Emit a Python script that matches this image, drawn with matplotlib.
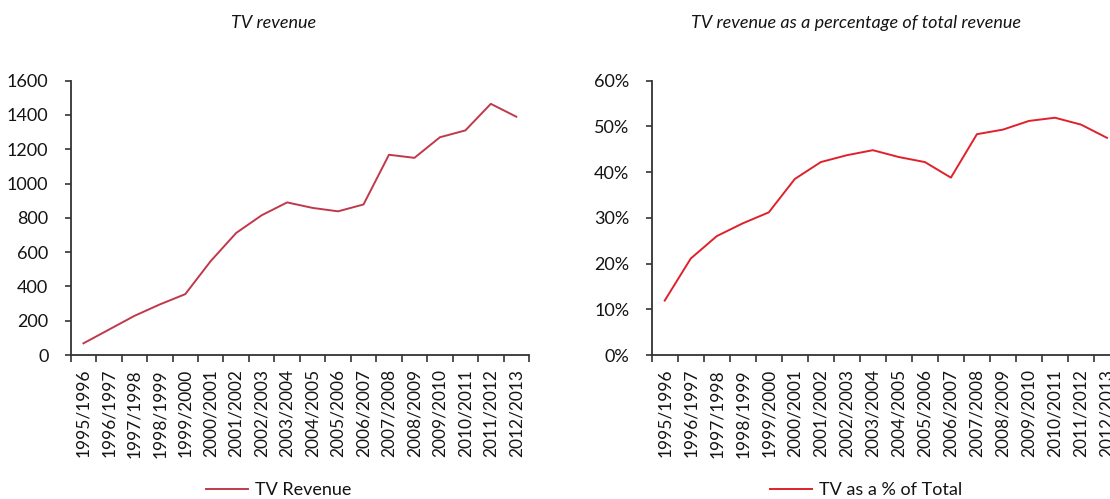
import matplotlib
matplotlib.use('Agg')
import matplotlib.pyplot as plt
from matplotlib.ticker import FixedLocator, FuncFormatter

# ── Data ──────────────────────────────────────────────────────────────────────
seasons = ['1995/1996', '1996/1997', '1997/1998', '1998/1999', '1999/2000',
           '2000/2001', '2001/2002', '2002/2003', '2003/2004', '2004/2005',
           '2005/2006', '2006/2007', '2007/2008', '2008/2009', '2009/2010',
           '2010/2011', '2011/2012', '2012/2013']
tv_revenue = [68, 148, 228, 295, 355, 548, 712, 815, 890, 858,
              838, 878, 1168, 1150, 1270, 1310, 1465, 1390]
tv_share = [0.119, 0.211, 0.260, 0.288, 0.312, 0.385, 0.422, 0.437, 0.448, 0.433,
            0.422, 0.388, 0.483, 0.493, 0.512, 0.519, 0.504, 0.475]

plt.rcParams['font.family'] = ['Lato', 'DejaVu Sans']
INK = '#141414'

fig = plt.figure(figsize=(11.10, 4.99), dpi=100)
W, H = 1110, 499


def box(x0, x1, ytop, ybot):
    return [x0 / W, 1 - ybot / H, (x1 - x0) / W, (ybot - ytop) / H]


def style(ax, ymax):
    x = list(range(len(seasons)))
    for side in ('top', 'right'):
        ax.spines[side].set_visible(False)
    for side in ('left', 'bottom'):
        ax.spines[side].set_color('#333333')
        ax.spines[side].set_linewidth(1.3)
    ax.set_xlim(-0.5, len(seasons) - 0.5)
    ax.set_ylim(0, ymax)
    ax.xaxis.set_major_locator(FixedLocator([i - 0.5 for i in range(len(seasons) + 1)]))
    ax.xaxis.set_minor_locator(FixedLocator(x))
    ax.set_xticklabels([], minor=False)
    ax.set_xticklabels(seasons, minor=True, rotation=90, fontsize=12.5, color=INK)
    ax.tick_params(axis='x', which='major', length=5, width=1.2, color='#333333')
    ax.tick_params(axis='x', which='minor', length=0, pad=10)
    ax.tick_params(axis='y', length=4, width=1.2, color='#333333',
                   labelsize=13, labelcolor=INK, pad=12)


# ── Left: TV revenue ──────────────────────────────────────────────────────────
ax1 = fig.add_axes(box(70.7, 529, 80.7, 355))
style(ax1, 1600)
ax1.plot(range(len(seasons)), tv_revenue, color='#C0394A', lw=1.4, label='TV Revenue')
ax1.set_yticks(range(0, 1601, 200))
fig.text(274 / W, 1 - 23 / H, 'TV revenue', ha='center', va='center',
         fontsize=13, style='italic', color=INK)
ax1.legend(loc='center', bbox_to_anchor=(279 / W, 1 - 490 / H),
           bbox_transform=fig.transFigure, frameon=False, fontsize=13,
           handlelength=2.3, handletextpad=0.4, labelcolor=INK)

# ── Right: TV as % of total ───────────────────────────────────────────────────
ax2 = fig.add_axes(box(651.7, 1120, 80.7, 355))
style(ax2, 0.6)
ax2.plot(range(len(seasons)), tv_share, color='#E0202B', lw=1.4, label='TV as a % of Total')
ax2.set_yticks([i / 10 for i in range(7)])
ax2.yaxis.set_major_formatter(FuncFormatter(lambda v, _: f'{v * 100:.0f}%'))
fig.text(856 / W, 1 - 23 / H, 'TV revenue as a percentage of total revenue',
         ha='center', va='center', fontsize=13, style='italic', color=INK)
ax2.legend(loc='center', bbox_to_anchor=(866 / W, 1 - 490 / H),
           bbox_transform=fig.transFigure, frameon=False, fontsize=13,
           handlelength=2.3, handletextpad=0.4, labelcolor=INK)

fig.savefig('out.png', dpi=100)
